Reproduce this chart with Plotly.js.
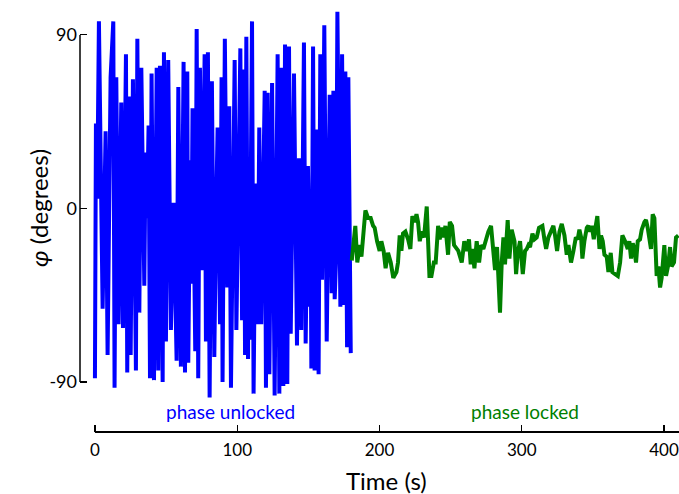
<!DOCTYPE html>
<html>
<head>
<meta charset="utf-8">
<script src="https://cdn.plot.ly/plotly-3.0.1.min.js"></script>
<style>html,body{margin:0;padding:0;background:#fff;}#chart{width:679px;height:494px;}</style>
</head>
<body>
<div id="chart"></div>
<script>
// Phase unlocked segment (time in s, phase in degrees)
const unlockedTime = [0, 0.7, 1.6, 2.8, 5.4, 6.4, 7.5, 8.9, 11.0, 12.9, 13.8, 15.0, 16.6, 18.5, 19.7, 21.8, 22.7, 24.1, 25.1, 26.7, 28.8, 29.8, 31.2, 32.6, 34.7, 35.6, 36.6, 37.7, 38.7, 39.8, 41.5, 43.4, 44.5, 45.7, 47.6, 48.5, 49.9, 51.5, 53.4, 55.3, 57.4, 58.6, 60.4, 62.3, 63.3, 64.9, 65.6, 67.0, 67.7, 68.6, 70.5, 71.5, 72.6, 73.8, 75.2, 77.1, 78.0, 79.4, 80.6, 82.2, 83.9, 85.0, 86.2, 87.9, 89.0, 89.7, 91.3, 93.0, 94.4, 95.6, 98.2, 99.4, 102.2, 103.4, 104.5, 105.5, 106.4, 107.6, 108.1, 108.7, 110.4, 111.5, 112.9, 114.3, 115.5, 116.9, 117.8, 119.3, 120.2, 121.4, 122.6, 124.5, 126.3, 128.4, 129.6, 131.0, 132.4, 133.6, 135.2, 136.4, 137.6, 139.9, 142.0, 143.4, 145.0, 146.9, 148.1, 149.7, 151.2, 151.6, 152.1, 153.3, 154.4, 155.9, 157.2, 158.4, 159.6, 161.2, 162.9, 165.0, 166.4, 167.6, 168.5, 169.5, 170.4, 172.5, 173.7, 175.1, 176.0, 177.2, 178.1, 179.8];
const unlockedPhase = [-88, 44, 5, 97, -52, -10, 40, -76, 68, 97, -93, 68, -60, 55, -62, 80, -85, 58, -76, 67, -84, 88, -54, 73, -40, 29, -5, 43, -88, 70, -89, 73, -84, 74, -90, 81, -69, 77, -63, 3, -79, 63, -82, 76, -85, 71, -80, 25, -39, 52, -74, 93, -88, 73, -32, 80, -69, 81, -98, 66, -77, -11, 42, -60, 68, -90, 88, -41, 53, -93, 77, -63, 83, -58, 72, -76, 89, -78, 5, -68, 97, -96, 13, -60, 42, -60, -4, 61, -93, 60, -86, 65, -97, 80, -96, 73, -92, 85, -91, 84, -65, 70, -71, 26, -63, 86, -70, 22, -51, -10, -83, 84, -84, 41, -86, 80, -37, 95, -69, 59, -44, 61, -47, -26, 102, -51, 80, -50, 71, -72, 68, -75];

// Phase locked segment
const lockedTime = [180.5, 183.0, 184.4, 186.1, 187.3, 190.1, 192.0, 193.8, 195.5, 196.6, 198.3, 200.1, 201.3, 202.9, 204.3, 206.0, 207.9, 209.7, 211.9, 213.0, 214.2, 215.4, 216.5, 218.2, 220.1, 221.7, 223.1, 224.8, 226.0, 227.1, 228.3, 229.5, 231.3, 233.2, 235.1, 236.5, 238.2, 239.5, 241.2, 242.3, 244.0, 245.4, 246.3, 248.2, 249.4, 251.0, 252.4, 255.4, 257.8, 259.6, 261.3, 262.9, 264.1, 265.3, 266.7, 268.3, 270.0, 271.4, 273.0, 274.9, 276.5, 278.4, 280.0, 281.2, 282.6, 283.6, 284.7, 285.9, 287.1, 288.2, 290.1, 291.3, 292.9, 294.9, 296.0, 297.2, 298.8, 300.7, 302.3, 303.5, 304.7, 305.8, 307.5, 308.9, 310.5, 312.1, 314.5, 315.9, 317.1, 318.7, 320.6, 322.2, 323.4, 324.8, 326.5, 328.1, 330.0, 331.6, 332.8, 334.6, 336.3, 338.0, 339.3, 340.5, 341.7, 342.6, 344.0, 345.7, 346.8, 348.0, 349.2, 350.6, 352.0, 353.1, 354.6, 355.7, 356.9, 358.1, 359.7, 360.9, 362.5, 363.7, 365.6, 367.5, 369.1, 370.7, 372.6, 374.5, 375.6, 376.8, 378.0, 379.1, 380.3, 381.5, 383.1, 384.3, 386.2, 387.3, 388.5, 389.4, 390.8, 392.0, 393.2, 394.8, 396.0, 397.2, 398.3, 400.2, 401.4, 403.0, 404.2, 405.3, 407.0, 408.4, 410.0];
const lockedPhase = [-27, -9, -28, -19, -25, -1, -5, -5, -9, -10, -17, -22, -17, -22, -31, -23, -28, -36, -33, -28, -14, -22, -13, -12, -16, -21, -4, -7, -3, -7, -17, -12, -15, 1, -35, -35, -28, -28, -9, -16, -10, -15, -9, -24, -7, -9, -19, -22, -28, -17, -22, -16, -29, -21, -31, -17, -28, -19, -21, -16, -12, -9, -21, -32, -20, -43, -54, -28, -15, -29, -6, -26, -11, -17, -34, -23, -17, -34, -22, -21, -19, -20, -13, -16, -15, -10, -9, -16, -21, -15, -12, -9, -14, -22, -12, -8, -14, -24, -19, -28, -22, -15, -16, -11, -15, -26, -17, -10, -9, -12, -9, -16, -9, -4, -21, -14, -17, -24, -25, -33, -23, -33, -34, -35, -28, -14, -17, -21, -17, -26, -18, -21, -28, -17, -16, -11, -7, -6, -10, -16, -21, -3, -5, -35, -30, -41, -36, -19, -35, -29, -20, -30, -28, -15, -14];

const xTicks = [0, 100, 200, 300, 400];
const yTicks = [-90, 0, 90];
const yTickText = ['-90', '0', '90'];

const FONT = 'Lato, "Open Sans", sans-serif';

const traces = [
  {x: unlockedTime, y: unlockedPhase, type: 'scatter', mode: 'lines',
   line: {color: '#0000ff', width: 4}, hoverinfo: 'skip'},
  {x: lockedTime, y: lockedPhase, type: 'scatter', mode: 'lines',
   line: {color: '#008000', width: 4}, hoverinfo: 'skip'}
];

const layout = {
  width: 679, height: 494,
  margin: {l: 80, r: 0, t: 5, b: 62},
  paper_bgcolor: '#fff', plot_bgcolor: '#fff',
  showlegend: false,
  font: {family: FONT, color: '#000', size: 16},
  xaxis: {
    range: [-10.5, 410.5], tickvals: xTicks, ticks: 'inside', ticklen: 7,
    tickwidth: 1.2, tickcolor: '#000', showgrid: false, zeroline: false, showline: false,
    ticklabelstandoff: 6,
    tickfont: {family: FONT, size: 17, color: '#000'}
  },
  yaxis: {
    range: [-115.9, 105.5], tickvals: yTicks, ticktext: yTickText, ticks: 'inside', ticklen: 7,
    tickwidth: 1.2, tickcolor: '#000', showgrid: false, zeroline: false, showline: false,
    ticklabelstandoff: 2,
    tickfont: {family: FONT, size: 18, color: '#000'}
  },
  shapes: [
    {type: 'line', xref: 'paper', x0: 0, x1: 0, yref: 'y', y0: -90, y1: 90,
     line: {color: '#000', width: 1.5}},
    {type: 'line', xref: 'x', x0: 0, x1: 410.5, yref: 'paper', y0: 0, y1: 0,
     line: {color: '#000', width: 2}}
  ],
  annotations: [
    {text: 'phase unlocked', x: 95.6, y: -105.5, xref: 'x', yref: 'y', showarrow: false,
     font: {family: FONT, size: 19, color: '#0000ff'}},
    {text: 'phase locked', x: 302, y: -105.5, xref: 'x', yref: 'y', showarrow: false,
     font: {family: FONT, size: 19, color: '#008000'}},
    {text: 'Time (s)', x: 205, y: 0, xref: 'x', yref: 'paper', yanchor: 'middle', yshift: -48, showarrow: false,
     font: {family: FONT, size: 24, color: '#000'}},
    {text: '<i>φ</i> (degrees)', x: 0, xref: 'paper', xshift: -58, y: 0, yref: 'y', showarrow: false,
     textangle: -90, font: {family: FONT, size: 24, color: '#000'}}
  ]
};

Plotly.newPlot('chart', traces, layout, {staticPlot: true, displayModeBar: false});
</script>
</body>
</html>
